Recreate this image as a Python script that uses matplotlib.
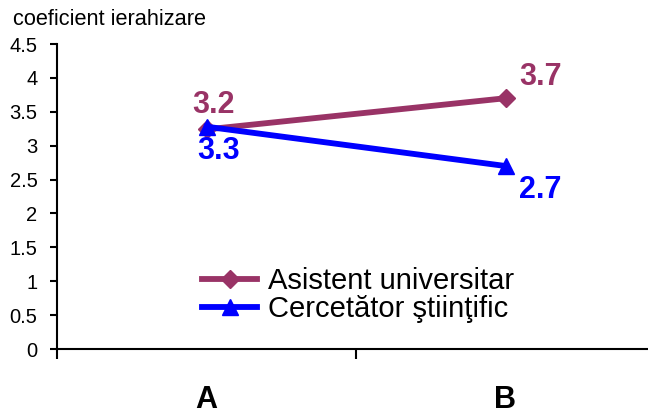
import matplotlib
matplotlib.use("Agg")
import matplotlib.pyplot as plt

plt.rcParams['font.family'] = ['Liberation Sans', 'DejaVu Sans']

categories = ['A', 'B']
asistent = [3.24, 3.7]
cercetator = [3.28, 2.7]
series_names = ['Asistent universitar', 'Cercetător ştiinţific']
y_ticks = [0, 0.5, 1, 1.5, 2, 2.5, 3, 3.5, 4, 4.5]

purple = '#993366'
blue = '#0000ff'

W, H = 648, 415
fig = plt.figure(figsize=(W / 100, H / 100), dpi=100)
ax = fig.add_axes([57 / W, (H - 349) / H, 598 / W, 305 / H])

x = list(range(len(categories)))
ax.plot(x, asistent, color=purple, lw=4.2, marker='D', ms=9, label=series_names[0], zorder=3)
ax.plot(x, cercetator, color=blue, lw=4.2, marker='^', ms=12, label=series_names[1], zorder=4)

# data labels
offs_a = [(7, 24), (35, 21)]
offs_c = [(12, -24), (35, -24)]
for i in x:
    ax.annotate('%.1f' % asistent[i], (i, asistent[i]), xytext=offs_a[i], textcoords='offset pixels',
                ha='center', va='center', fontsize=22, fontweight='bold', color=purple)
    ax.annotate('%.1f' % cercetator[i], (i, cercetator[i]), xytext=offs_c[i], textcoords='offset pixels',
                ha='center', va='center', fontsize=22, fontweight='bold', color=blue)

ax.set_xlim(-0.5, 1.5)
ax.set_ylim(0, 4.5)
ax.set_yticks(y_ticks)
ax.set_yticklabels(['%g' % v for v in y_ticks], fontsize=14.5)
ax.set_xticks(x)
ax.set_xticklabels(categories, fontsize=22, fontweight='bold')
ax.set_xticks([-0.5, 0.5, 1.5], minor=True)
ax.tick_params(axis='x', which='major', length=0, pad=26)
ax.tick_params(axis='x', which='minor', length=7, width=1.5, direction='out')
ax.tick_params(axis='y', length=5, width=1.5, direction='out', pad=9)

for s in ['top', 'right']:
    ax.spines[s].set_visible(False)
for s in ['left', 'bottom']:
    ax.spines[s].set_linewidth(1.5)
ax.patch.set_visible(False)

ax.legend(loc='upper left', bbox_to_anchor=((202 - 57) / 598, (349 - 267) / 305),
          frameon=False, fontsize=21, handlelength=1.9, handletextpad=0.35,
          labelspacing=0.0, borderpad=0, borderaxespad=0)

fig.text(13 / W, 1 - 25 / H, 'coeficient ierahizare', fontsize=15.7, va='baseline', ha='left')

fig.savefig('out.png', dpi=100)
